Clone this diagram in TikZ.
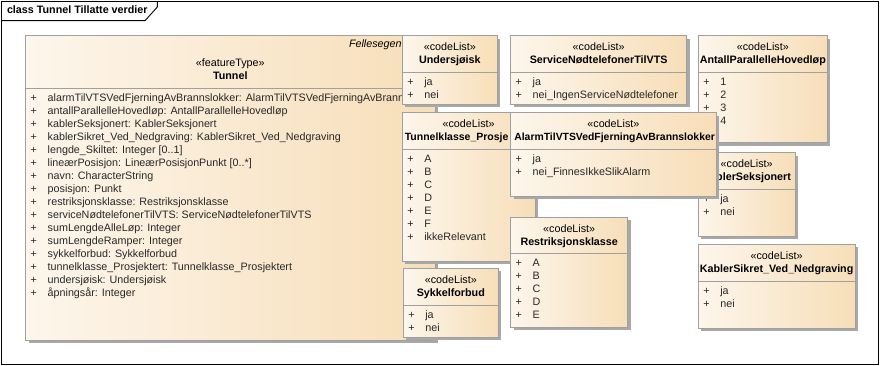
\documentclass[tikz,border=0pt]{standalone}
\usepackage{fontspec}
\setmainfont{Liberation Sans}
\usetikzlibrary{positioning, shadows}

\definecolor{fillL}{RGB}{253,246,236}
\definecolor{fillR}{RGB}{247,222,184}
\definecolor{boxgray}{RGB}{160,160,160}
\definecolor{shadowgray}{RGB}{168,168,168}
\definecolor{itemgray}{RGB}{40,40,40}

\begin{document}
\begin{tikzpicture}[
  x=1pt, y=-1pt,
  every node/.style={font=\fontsize{10.75}{12}\selectfont, inner sep=0pt, outer sep=0pt},
  frame/.style={draw=black, line width=0.9pt},
  cls/.style={draw=boxgray, line width=1pt, left color=fillL, right color=fillR,
              anchor=north west,
              drop shadow={shadow xshift=3pt, shadow yshift=-3pt, fill=shadowgray, opacity=1}},
  sep/.style={draw=boxgray, line width=1pt},
  stereo/.style={anchor=mid},
  cname/.style={anchor=mid, font=\fontsize{10.75}{12}\selectfont\bfseries},
  item/.style={anchor=mid west, text=itemgray}
]

\fill[white] (0,0) rectangle (880,366);
\useasboundingbox (0,0) rectangle (880,366);

%% ---- FRAME ------------------------------------------------------
\draw[frame] (1.5,1.5) rectangle (878.5,364.5);
\draw[frame] (1.5,20.7) -- (145,20.7) -- (157.3,7) -- (157.3,1.5);
\node[anchor=mid west, font=\fontsize{10.75}{12}\selectfont\bfseries] (title) at (7,11)
  {class Tunnel Tillatte verdier};

%% ---- TUNNEL (featureType) --------------------------------------
\node[cls, minimum width=409.3pt, minimum height=304.3pt] (tunnel) at (25.7,35.7) {};
\node[anchor=mid west, font=\fontsize{10.75}{12}\selectfont\itshape] (tunnel-pkg) at (349,45)
  {Fellesegen};
\node[stereo] (tunnel-st) at (230.3,63.7) {«featureType»};
\node[cname]  (tunnel-nm) at (230.3,76.7) {Tunnel};
\draw[sep] (tunnel.west |- 0,88.3) -- (tunnel.east |- 0,88.3);
\foreach \v [count=\i from 0] in {
    {alarmTilVTSVedFjerningAvBrannslokker: AlarmTilVTSVedFjerningAvBrann},
    {antallParallelleHovedløp: AntallParallelleHovedløp},
    {kablerSeksjonert: KablerSeksjonert},
    {kablerSikret\_Ved\_Nedgraving: KablerSikret\_Ved\_Nedgraving},
    {lengde\_Skiltet: Integer [0..1]},
    {lineærPosisjon: LineærPosisjonPunkt [0..*]},
    {navn: CharacterString},
    {posisjon: Punkt},
    {restriksjonsklasse: Restriksjonsklasse},
    {serviceNødtelefonerTilVTS: ServiceNødtelefonerTilVTS},
    {sumLengdeAlleLøp: Integer},
    {sumLengdeRamper: Integer},
    {sykkelforbud: Sykkelforbud},
    {tunnelklasse\_Prosjektert: Tunnelklasse\_Prosjektert},
    {undersjøisk: Undersjøisk},
    {åpningsår: Integer}}
  \node[item] (tunnel-\i) at (30.7, 99+13*\i) {\makebox[17pt][l]{+}\v};

%% ---- UNDERSJØISK ------------------------------------------------
\node[cls, minimum width=95pt, minimum height=68.6pt] (undersj) at (402.3,35.7) {};
\node[stereo] (undersj-st) at (449.8,48.3) {«codeList»};
\node[cname]  (undersj-nm) at (449.8,60.7) {Undersjøisk};
\draw[sep] (undersj.west |- 0,72.3) -- (undersj.east |- 0,72.3);
\foreach \v [count=\i from 0] in {ja,nei}
  \node[item] (undersj-\i) at (407.3, 82.8+13*\i) {\makebox[17pt][l]{+}\v};

%% ---- SERVICENØDTELEFONERTILVTS ---------------------------------
\node[cls, minimum width=176pt, minimum height=68.6pt] (service) at (510.7,35.7) {};
\node[stereo] (service-st) at (598.7,48.3) {«codeList»};
\node[cname]  (service-nm) at (598.7,60.7) {ServiceNødtelefonerTilVTS};
\draw[sep] (service.west |- 0,72.3) -- (service.east |- 0,72.3);
\foreach \v [count=\i from 0] in {ja,{nei\_IngenServiceNødtelefoner}}
  \node[item] (service-\i) at (515.7, 82.8+13*\i) {\makebox[17pt][l]{+}\v};

%% ---- TUNNELKLASSE_PROSJEKTERT ----------------------------------
\node[cls, minimum width=132.7pt, minimum height=148.3pt] (tklasse) at (402.3,112.7) {};
\node[stereo] (tklasse-st) at (468.6,125) {«codeList»};
\node[cname, anchor=mid west, font=\fontsize{10.5}{12}\selectfont\bfseries] (tklasse-nm)
  at (404.8,137.7) {Tunnelklasse\_Prosje};
\draw[sep] (tklasse.west |- 0,149.3) -- (tklasse.east |- 0,149.3);
\foreach \v [count=\i from 0] in {A,B,C,D,E,F,ikkeRelevant}
  \node[item] (tklasse-\i) at (407.3, 159.8+13*\i) {\makebox[17pt][l]{+}\v};

%% ---- ANTALLPARALLELLEHOVEDLØP ----------------------------------
\node[cls, minimum width=129pt, minimum height=107pt] (antall) at (698.3,35.7) {};
\node[stereo] (antall-st) at (762.8,48.3) {«codeList»};
\node[cname]  (antall-nm) at (762.8,60.7) {AntallParallelleHovedløp};
\draw[sep] (antall.west |- 0,72.3) -- (antall.east |- 0,72.3);
\foreach \v [count=\i from 0] in {1,2,3,4}
  \node[item] (antall-\i) at (703.3, 82.8+13*\i) {\makebox[17pt][l]{+}\v};

%% ---- KABLERSEKSJONERT -------------------------------------------
\node[cls, minimum width=96.7pt, minimum height=83.3pt] (kseksj) at (698.3,152.7) {};
\node[stereo] (kseksj-st) at (746.7,165.3) {«codeList»};
\node[cname]  (kseksj-nm) at (746.7,177.7) {KablerSeksjonert};
\draw[sep] (kseksj.west |- 0,189.3) -- (kseksj.east |- 0,189.3);
\foreach \v [count=\i from 0] in {ja,nei}
  \node[item] (kseksj-\i) at (703.3, 199.8+13*\i) {\makebox[17pt][l]{+}\v};

%% ---- ALARMTILVTSVEDFJERNINGAVBRANNSLOKKER ----------------------
\node[cls, minimum width=205.3pt, minimum height=83.3pt] (alarm) at (510.7,112.7) {};
\node[stereo] (alarm-st) at (613.4,125) {«codeList»};
\node[cname, font=\fontsize{10.4}{12}\selectfont\bfseries] (alarm-nm)
  at (614.6,137.7) {AlarmTilVTSVedFjerningAvBrannslokker};
\draw[sep] (alarm.west |- 0,149.3) -- (alarm.east |- 0,149.3);
\foreach \v [count=\i from 0] in {ja,{nei\_FinnesIkkeSlikAlarm}}
  \node[item] (alarm-\i) at (515.7, 159.8+13*\i) {\makebox[17pt][l]{+}\v};

%% ---- RESTRIKSJONSKLASSE -----------------------------------------
\node[cls, minimum width=117pt, minimum height=109.7pt] (restr) at (510.7,217.3) {};
\node[stereo] (restr-st) at (569.2,230.3) {«codeList»};
\node[cname]  (restr-nm) at (569.2,242.7) {Restriksjonsklasse};
\draw[sep] (restr.west |- 0,253.3) -- (restr.east |- 0,253.3);
\foreach \v [count=\i from 0] in {A,B,C,D,E}
  \node[item] (restr-\i) at (515.7, 263.8+13*\i) {\makebox[17pt][l]{+}\v};

%% ---- SYKKELFORBUD -----------------------------------------------
\node[cls, minimum width=95pt, minimum height=69pt] (sykkel) at (403.3,268.3) {};
\node[stereo] (sykkel-st) at (450.8,281.3) {«codeList»};
\node[cname]  (sykkel-nm) at (450.8,293.7) {Sykkelforbud};
\draw[sep] (sykkel.west |- 0,305.7) -- (sykkel.east |- 0,305.7);
\foreach \v [count=\i from 0] in {ja,nei}
  \node[item] (sykkel-\i) at (408.3, 316.2+13*\i) {\makebox[17pt][l]{+}\v};

%% ---- KABLERSIKRET_VED_NEDGRAVING -------------------------------
\node[cls, minimum width=156.7pt, minimum height=84pt] (ksikret) at (698.3,244.3) {};
\node[stereo] (ksikret-st) at (776.6,257) {«codeList»};
\node[cname]  (ksikret-nm) at (776.6,269.7) {KablerSikret\_Ved\_Nedgraving};
\draw[sep] (ksikret.west |- 0,281.7) -- (ksikret.east |- 0,281.7);
\foreach \v [count=\i from 0] in {ja,nei}
  \node[item] (ksikret-\i) at (703.3, 292.2+13*\i) {\makebox[17pt][l]{+}\v};

\end{tikzpicture}
\end{document}
